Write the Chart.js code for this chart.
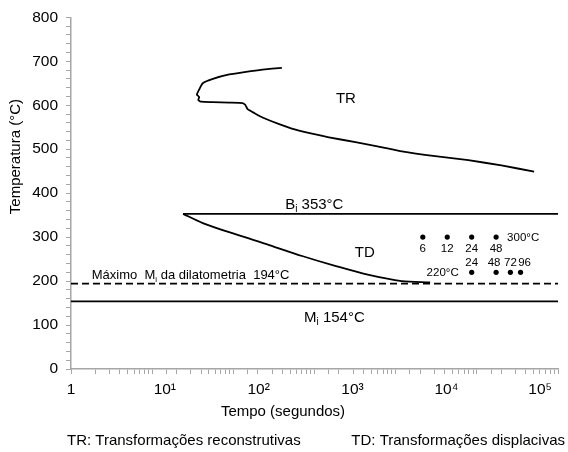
<!DOCTYPE html>
<html>
<head>
<meta charset="utf-8">
<script src="https://cdn.jsdelivr.net/npm/chart.js@4.4.1/dist/chart.umd.min.js"></script>
<style>
  body { margin: 0; background: #fff; }
  canvas { display: block; }
</style>
</head>
<body>
<canvas id="ttt" width="568" height="452"></canvas>
<script>
// curva TR (transformações reconstrutivas): tempo (s), temperatura (°C)
const trTime = [396, 229, 143, 89, 56, 42, 38, 35.5, 38, 37, 40, 56, 89, 130, 140, 150, 182, 229, 367, 645, 1507, 3200, 6170, 11950, 30700, 78700, 201000, 508000];
const trTemp = [685, 681, 676, 670, 660, 650, 636, 624, 619, 612, 608, 607, 606, 605, 601, 591, 582, 572, 557, 542, 527, 516, 506, 495, 484, 475, 463, 449];

// curva TD (transformações displacivas)
const tdTime = [24, 42, 108, 277, 703, 1840, 4670, 11850, 26600];
const tdTemp = [353, 332, 306, 282, 257, 234, 214, 200, 197];

// linhas horizontais
const biTime = [24, 1e6];
const biTemp = [353, 353];
const mdTime = [1, 1e6];
const mdTemp = [194, 194];
const miTime = [1, 1e6];
const miTemp = [154, 154];

// tratamentos isotérmicos (tempo em s, rótulo em horas)
const dots300Time = [21600, 43200, 86400, 172800];
const dots300Temp = [300, 300, 300, 300];
const dots300Hours = ['6', '12', '24', '48'];
const dots220Time = [86400, 172800, 259200, 345600];
const dots220Temp = [220, 220, 220, 220];
const dots220Hours = ['24', '48', '72', '96'];

const xTickLabels = ['1', '10¹', '10²', '10³', '10⁴', '10⁵'];
const yTickStep = 20;

const FONT = "'Liberation Sans', Arial, sans-serif";
const AXIS_GRAY = '#a6a6a6';

const pts = (xs, ys) => xs.map((x, i) => ({ x, y: ys[i] }));

function lineSet(xs, ys, extra) {
    return Object.assign({
        data: pts(xs, ys),
        showLine: true,
        borderColor: '#000',
        borderWidth: 1.8,
        pointRadius: 0,
        fill: false,
        tension: 0
    }, extra || {});
}

function dotSet(xs, ys) {
    return {
        data: pts(xs, ys),
        showLine: false,
        pointRadius: 2.6,
        pointBackgroundColor: '#000',
        pointBorderWidth: 0
    };
}

// texto com índice (B_i, M_i)
function subText(ctx, x, y, main, sub, rest, size) {
    ctx.font = `${size}px ${FONT}`;
    ctx.fillText(main, x, y);
    x += ctx.measureText(main).width;
    ctx.font = `${Math.round(size * 0.65)}px ${FONT}`;
    ctx.fillText(sub, x, y + 3);
    x += ctx.measureText(sub).width;
    ctx.font = `${size}px ${FONT}`;
    ctx.fillText(rest, x, y);
}

const annotations = {
    id: 'annotations',
    afterDatasetsDraw(chart) {
        const { ctx, scales: { x, y } } = chart;
        const px = v => x.getPixelForValue(v);
        const py = v => y.getPixelForValue(v);
        ctx.save();
        ctx.fillStyle = '#000';
        ctx.textBaseline = 'alphabetic';

        ctx.font = `15px ${FONT}`;
        ctx.textAlign = 'center';
        ctx.fillText('TR', px(2440), py(619) + 6);
        ctx.fillText('TD', px(4170), py(268) + 6);

        ctx.textAlign = 'left';
        subText(ctx, px(435), py(353) - 5, 'B', 'i', ' 353°C', 15);
        subText(ctx, px(743), py(154) + 21, 'M', 'i', ' 154°C', 15);
        subText(ctx, px(1.8), py(194) - 5, 'Máximo  M', 'i', ' da dilatometria  194°C', 13);

        ctx.font = `11.5px ${FONT}`;
        ctx.textAlign = 'center';
        const nudge220 = [0, -2, 0, 4];
        dots300Time.forEach((t, i) => ctx.fillText(dots300Hours[i], px(t), py(300) + 15));
        dots220Time.forEach((t, i) => ctx.fillText(dots220Hours[i], px(t) + nudge220[i], py(220) - 6));
        ctx.textAlign = 'left';
        ctx.fillText('300°C', px(dots300Time[3]) + 11, py(300) + 4);
        ctx.textAlign = 'right';
        ctx.fillText('220°C', px(dots220Time[0]) - 13, py(220) + 4);

        // título do eixo x e legenda das siglas
        ctx.font = `15px ${FONT}`;
        ctx.textAlign = 'center';
        ctx.fillText('Tempo (segundos)', 283, 416);
        ctx.textAlign = 'left';
        ctx.fillText('TR: Transformações reconstrutivas', 67, 445);
        ctx.textAlign = 'right';
        ctx.fillText('TD: Transformações displacivas', 565, 445);

        // título do eixo y
        ctx.translate(16, 99);
        ctx.rotate(-Math.PI / 2);
        ctx.textAlign = 'right';
        ctx.textBaseline = 'middle';
        ctx.font = `15px ${FONT}`;
        ctx.fillText('Temperatura (°C)', 0, 0);
        ctx.restore();
    }
};

new Chart(document.getElementById('ttt').getContext('2d'), {
    type: 'scatter',
    data: {
        datasets: [
            lineSet(trTime, trTemp, { tension: 0.15 }),
            lineSet(tdTime, tdTemp, { tension: 0.3 }),
            lineSet(biTime, biTemp),
            lineSet(mdTime, mdTemp, { borderDash: [7, 4] }),
            lineSet(miTime, miTemp),
            dotSet(dots300Time, dots300Temp),
            dotSet(dots220Time, dots220Temp)
        ]
    },
    options: {
        responsive: false,
        animation: false,
        layout: { padding: { top: 14, right: 10, left: 0, bottom: 0 } },
        plugins: { legend: { display: false }, tooltip: { enabled: false } },
        scales: {
            x: {
                type: 'logarithmic',
                min: 1,
                max: 1e6,
                position: 'bottom',
                weight: 0,
                afterFit: s => { s.height = 6; },
                border: { color: AXIS_GRAY, width: 1.5 },
                grid: { drawOnChartArea: false, tickLength: 5, color: AXIS_GRAY },
                ticks: { autoSkip: false, maxRotation: 0, callback: () => '', padding: 0 }
            },
            xl: {
                type: 'linear',
                min: 0,
                max: 5.19,
                position: 'bottom',
                weight: 1,
                afterFit: s => { s.height = 77; },
                border: { display: false },
                grid: { display: false },
                ticks: {
                    stepSize: 1,
                    includeBounds: false,
                    autoSkip: false,
                    maxRotation: 0,
                    padding: -3,
                    color: '#000',
                    font: { family: FONT, size: 15.5 },
                    callback: v => xTickLabels[v] ?? ''
                }
            },
            y: {
                min: 0,
                max: 800,
                afterFit: s => { s.width = 71; },
                border: { color: AXIS_GRAY, width: 1.5 },
                grid: { drawOnChartArea: false, tickLength: 5, color: AXIS_GRAY },
                ticks: {
                    stepSize: yTickStep,
                    autoSkip: false,
                    padding: 8,
                    color: '#000',
                    font: { family: FONT, size: 15.5 },
                    callback: v => (v % 100 === 0 ? v : '')
                }
            }
        }
    },
    plugins: [annotations]
});
</script>
</body>
</html>
